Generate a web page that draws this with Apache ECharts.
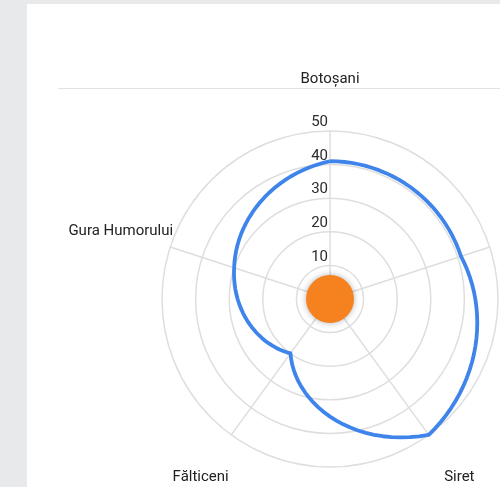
<!DOCTYPE html>
<html>
<head>
<meta charset="utf-8">
<script src="https://cdn.jsdelivr.net/npm/echarts@6/dist/echarts.min.js"></script>
<style>
  html, body { margin: 0; padding: 0; background: #e8e9eb; }
  #card { position: absolute; left: 27px; top: 4px; width: 473px; height: 483px; background: #fff; }
  #rule { position: absolute; left: 58px; top: 88px; width: 442px; height: 1px; background: #e2e2e2; }
  #chart { position: absolute; left: 0; top: 0; width: 500px; height: 487px; }
</style>
</head>
<body>
<div id="card"></div>
<div id="rule"></div>
<div id="chart"></div>
<script>
// indicators, counter-clockwise from the top
const towns = ["Botoșani", "Gura Humorului", "Fălticeni", "Siret", "Suceava"];
const values = [41, 30, 20, 50, 41];
const maxValue = 50;
const ticks = [0, 10, 20, 30, 40, 50];

const center = [330, 299];
const radius = 168;
const step = 360 / towns.length;

let chart = echarts.init(document.getElementById("chart"));

// line between two towns follows the polar scale (radius changes with angle)
function renderLoop(params, api) {
  if (params.dataIndex !== 0) return null;
  const pts = [];
  for (let i = 0; i < values.length; i++) {
    const j = (i + 1) % values.length;
    for (let k = 0; k < 24; k++) {
      const t = k / 24;
      pts.push(api.coord([values[i] + (values[j] - values[i]) * t, (i + t) * step]));
    }
  }
  pts.push(pts[0]);
  return {
    type: "polyline",
    shape: { points: pts },
    style: { stroke: "#3f84ea", lineWidth: 3.8, fill: null, lineJoin: "round" }
  };
}

const options = {
  textStyle: { fontFamily: "Roboto" },
  radar: {
    center: center,
    radius: radius,
    shape: "circle",
    splitNumber: ticks.length - 1,
    axisNameGap: 52,
    axisName: {
      color: "#222",
      fontSize: 15,
      fontFamily: "Roboto",
      align: "center",
      verticalAlign: "middle"
    },
    axisLine: { lineStyle: { color: "#dedede", width: 1.5 } },
    splitLine: { lineStyle: { color: "#dedede", width: 1.5 } },
    splitArea: { show: false },
    axisLabel: { show: false },
    indicator: towns.map((t, i) => {
      const ind = { name: t, min: 0, max: maxValue };
      if (i === 0) {
        ind.axisLabel = {
          show: true,
          showMinLabel: false,
          color: "#2b2b2b",
          fontSize: 15,
          fontFamily: "Roboto",
          margin: 2,
          align: "right",
          verticalAlign: "bottom",
          padding: [0, 0, 1, 0]
        };
      }
      return ind;
    })
  },
  polar: { center: center, radius: radius },
  angleAxis: { type: "value", min: 0, max: 360, startAngle: 90, clockwise: false, show: false },
  radiusAxis: { type: "value", min: 0, max: maxValue, show: false },
  series: [
    {
      type: "custom",
      coordinateSystem: "polar",
      renderItem: renderLoop,
      data: values.map((v, i) => [v, i * step]),
      silent: true,
      z: 3
    },
    {
      type: "scatter",
      coordinateSystem: "polar",
      data: [[0, 0]],
      symbolSize: 48,
      itemStyle: { color: "#f5821f", opacity: 1, shadowBlur: 6, shadowColor: "rgba(0,0,0,0.3)" },
      silent: true,
      z: 4
    }
  ]
};

chart.setOption(options);
</script>
</body>
</html>
